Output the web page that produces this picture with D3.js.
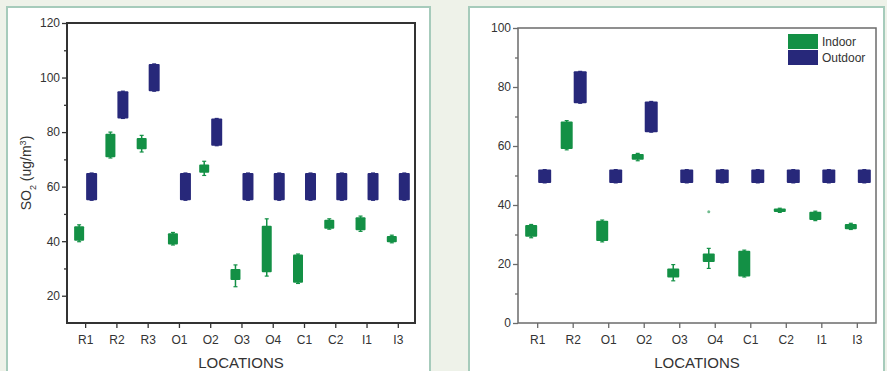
<!DOCTYPE html>
<html>
<head>
<meta charset="utf-8">
<script src="https://cdn.jsdelivr.net/npm/d3@7"></script>
<style>
  body { margin: 0; background: #eef2e9; }
  svg { display: block; font-family: "Liberation Sans", Arial, sans-serif; }
</style>
</head>
<body>
<svg id="chart" width="887" height="371"></svg>
<script>
// left panel: [whisker low, box low, box high, whisker high]
const leftCats = ['R1', 'R2', 'R3', 'O1', 'O2', 'O3', 'O4', 'C1', 'C2', 'I1', 'I3'];
const leftIndoor = [
  [39.8, 40.2, 45.5, 46], [70.5, 70.8, 79.4, 80], [72.7, 73.7, 77.8, 78.8],
  [38.6, 38.8, 42.9, 43.2], [64.1, 65.1, 68.1, 69.3], [23.3, 25.8, 29.8, 31.3],
  [27.2, 28.6, 45.7, 48.2], [24.5, 24.8, 35.1, 35.3], [44.4, 44.6, 47.9, 48.2],
  [43.6, 44, 48.8, 49.2], [39.4, 39.6, 41.9, 42.2]
];
const leftOutdoor = [
  [55, 55, 65, 65], [85, 85, 95, 95], [95, 95, 105, 105], [55, 55, 65, 65],
  [75, 75, 85, 85], [55, 55, 65, 65], [55, 55, 65, 65], [55, 55, 65, 65],
  [55, 55, 65, 65], [55, 55, 65, 65], [55, 55, 65, 65]
];
const leftTicks = [20, 40, 60, 80, 100, 120];
const leftMinor = [30, 50, 70, 90, 110];

// right panel
const rightCats = ['R1', 'R2', 'O1', 'O2', 'O3', 'O4', 'C1', 'C2', 'I1', 'I3'];
const rightIndoor = [
  [28.9, 29.2, 33.2, 33.4], [58.7, 59, 68.3, 68.6], [27.5, 27.8, 34.7, 34.9],
  [55, 55.3, 57.3, 57.5], [14.3, 15.4, 18.5, 19.8], [18.5, 20.7, 23.6, 25.3],
  [15.6, 15.8, 24.5, 24.7], [37.5, 37.6, 38.8, 38.9], [34.7, 34.9, 37.7, 37.9],
  [31.7, 31.8, 33.6, 33.8]
];
const rightOutdoor = [
  [47.5, 47.5, 52, 52], [74.5, 74.5, 85.3, 85.3], [47.5, 47.5, 52, 52],
  [64.7, 64.7, 75.1, 75.1], [47.5, 47.5, 52, 52], [47.5, 47.5, 52, 52],
  [47.5, 47.5, 52, 52], [47.5, 47.5, 52, 52], [47.5, 47.5, 52, 52],
  [47.5, 47.5, 52, 52]
];
const rightOutliers = [{ cat: 5, value: 37.7 }];
const rightTicks = [0, 20, 40, 60, 80, 100];
const rightMinor = [10, 30, 50, 70, 90];

const green = '#139045',
      blue = '#27287a';

const svg = d3.select('#chart');

// panel frames
svg.append('rect').attr('x', 7).attr('y', 7).attr('width', 423).attr('height', 380)
  .attr('fill', '#fff').attr('stroke', '#a6cbbb').attr('stroke-width', 2);
svg.append('rect').attr('x', 469).attr('y', 7).attr('width', 415).attr('height', 380)
  .attr('fill', '#fff').attr('stroke', '#a6cbbb').attr('stroke-width', 2);

function drawPanel(opt) {
  const x = d3.scaleLinear().domain(opt.xDomain).range([opt.left, opt.right]),
        y = d3.scaleLinear().domain(opt.yDomain).range([opt.bottom, opt.top]),
        g = svg.append('g');

  // y axis
  const yAxis = g.append('g')
    .attr('transform', `translate(${opt.left},0)`)
    .call(d3.axisLeft(y).tickValues(opt.yTicks).tickSize(5).tickPadding(2));
  g.append('g')
    .attr('transform', `translate(${opt.left},0)`)
    .call(d3.axisLeft(y).tickValues(opt.yMinor).tickSize(3).tickFormat(''));

  // x axis
  const xAxis = g.append('g')
    .attr('transform', `translate(0,${opt.bottom})`)
    .call(d3.axisBottom(x).tickValues(d3.range(1, opt.cats.length + 1))
      .tickSize(5).tickPadding(7).tickFormat((d) => opt.cats[d - 1]));

  g.selectAll('.domain').remove();
  g.selectAll('.tick line').attr('stroke', opt.axisColor).attr('stroke-width', 1.3);
  g.selectAll('.tick text').attr('fill', '#333').style('font-size', '12px');

  // frame
  g.append('rect')
    .attr('x', opt.left).attr('y', opt.top)
    .attr('width', opt.right - opt.left).attr('height', opt.bottom - opt.top)
    .attr('fill', 'none').attr('stroke', opt.axisColor).attr('stroke-width', opt.frameWidth);

  function boxes(data, color, x0, x1) {
    const b = g.append('g').selectAll('g').data(data).join('g');
    b.append('line')
      .attr('x1', (d, i) => x(i + 1) + (x0 + x1) / 2)
      .attr('x2', (d, i) => x(i + 1) + (x0 + x1) / 2)
      .attr('y1', (d) => y(d[0]))
      .attr('y2', (d) => y(d[3]))
      .attr('stroke', color).attr('stroke-width', 1.5);
    b.selectAll('.cap').data((d, i) => [[i, d[0]], [i, d[3]]]).join('line')
      .attr('x1', (d) => x(d[0] + 1) + (x0 + x1) / 2 - 2)
      .attr('x2', (d) => x(d[0] + 1) + (x0 + x1) / 2 + 2)
      .attr('y1', (d) => y(d[1]))
      .attr('y2', (d) => y(d[1]))
      .attr('stroke', color).attr('stroke-width', 1.2);
    b.append('rect')
      .attr('x', (d, i) => x(i + 1) + x0)
      .attr('width', x1 - x0)
      .attr('y', (d) => y(d[2]))
      .attr('height', (d) => y(d[1]) - y(d[2]))
      .attr('rx', 1)
      .attr('fill', color);
  }

  boxes(opt.indoor, green, opt.inX[0], opt.inX[1]);
  boxes(opt.outdoor, blue, opt.outX[0], opt.outX[1]);

  (opt.outliers || []).forEach((o) => {
    g.append('circle')
      .attr('cx', x(o.cat + 1) + (opt.inX[0] + opt.inX[1]) / 2)
      .attr('cy', y(o.value))
      .attr('r', 1.5)
      .attr('fill', green).attr('opacity', 0.6);
  });

  g.append('text')
    .attr('x', (opt.left + opt.right) / 2)
    .attr('y', 368)
    .attr('text-anchor', 'middle')
    .attr('fill', '#333')
    .style('font-size', '15px')
    .text('LOCATIONS');

  return { x, y, g };
}

drawPanel({
  left: 67, right: 415, top: 23, bottom: 323,
  xDomain: [0.42, 11.55], yDomain: [10, 120],
  yTicks: leftTicks, yMinor: leftMinor, cats: leftCats,
  indoor: leftIndoor, outdoor: leftOutdoor,
  inX: [-11, -1], outX: [1, 12],
  axisColor: '#333', frameWidth: 2
});

const right = drawPanel({
  left: 518, right: 876, top: 28, bottom: 323,
  xDomain: [0.46, 10.54], yDomain: [0, 100],
  yTicks: rightTicks, yMinor: rightMinor, cats: rightCats,
  indoor: rightIndoor, outdoor: rightOutdoor, outliers: rightOutliers,
  inX: [-12, 0], outX: [1, 14],
  axisColor: '#6b6b6b', frameWidth: 1.5
});

// y title, left panel
const yTitle = svg.append('text')
  .attr('transform', 'translate(31,173) rotate(-90)')
  .attr('text-anchor', 'middle')
  .attr('fill', '#333')
  .style('font-size', '14px');
yTitle.append('tspan').text('SO');
yTitle.append('tspan').attr('baseline-shift', 'sub').style('font-size', '9px').text('2');
yTitle.append('tspan').text(' (ug/m');
yTitle.append('tspan').attr('baseline-shift', 'super').style('font-size', '9px').text('3');
yTitle.append('tspan').text(')');

// legend, right panel
const legendItems = ['Indoor', 'Outdoor'],
      legendColors = [green, blue];
const legend = right.g.append('g').selectAll('g').data(legendItems).join('g')
  .attr('transform', (d, i) => `translate(788,${34 + i * 16})`);
legend.append('rect')
  .attr('width', 30).attr('height', 15)
  .attr('fill', (d, i) => legendColors[i]);
legend.append('text')
  .attr('x', 34).attr('y', 12)
  .attr('fill', '#333')
  .style('font-size', '12px')
  .text((d) => d);
</script>
</body>
</html>
